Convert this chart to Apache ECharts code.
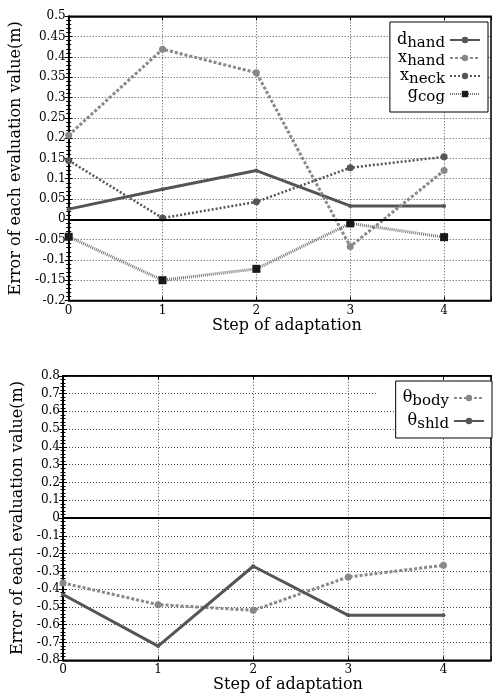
<!DOCTYPE html>
<html>
<head>
<meta charset="utf-8">
<script src="https://cdn.jsdelivr.net/npm/echarts@6/dist/echarts.min.js"></script>
<style>
html,body{margin:0;padding:0;background:#fff;}
#c{width:494px;height:696px;}
</style>
</head>
<body>
<div id="c"></div>
<script>
// ---- data ----
var steps = [0, 1, 2, 3, 4];
// top chart
var dHand = [0.025, 0.074, 0.12, 0.033, 0.033];
var xHand = [0.207, 0.419, 0.361, -0.067, 0.12];
var xNeck = [0.145, 0.003, 0.043, 0.127, 0.154];
var gCog = [-0.043, -0.15, -0.122, -0.01, -0.044];
// bottom chart
var thetaBody = [-0.365, -0.487, -0.519, -0.331, -0.266];
var thetaShld = [-0.43, -0.72, -0.271, -0.547, -0.547];
// labels
var yTitle = 'Error of each evaluation value(m)';
var xTitle = 'Step of adaptation';
var topNames = ['dhand', 'xhand', 'xneck', 'gcog'];
var botNames = ['θbody', 'θshld'];

function pairs(v) { return steps.map(function (s, i) { return [s, v[i]]; }); }

var FONT = 'DejaVu Serif';
var gridLine = { show: true, lineStyle: { color: '#222', width: 0.8, type: [1, 2] } };

function xAxisDef(gi, gap, pad) {
  return {
    type: 'value', gridIndex: gi, min: 0, max: 4.5, interval: 1,
    name: xTitle, nameLocation: 'middle', nameGap: gap,
    nameTextStyle: { fontFamily: FONT, fontSize: 16, color: '#000', padding: pad },
    axisLine: { show: true, onZero: false, lineStyle: { color: '#000', width: 1.5 } },
    axisTick: { show: true, inside: true, length: 4, lineStyle: { color: '#000' } },
    axisLabel: { fontFamily: FONT, fontSize: 12, color: '#000', margin: 4,
      formatter: function (v) { return (v % 1 === 0) ? String(v) : ''; } },
    splitLine: gridLine
  };
}
function xTopDef(gi) {
  return {
    type: 'value', gridIndex: gi, min: 0, max: 4.5, interval: 1, position: 'top',
    axisLine: { show: true, onZero: false, lineStyle: { color: '#000', width: 1.5 } },
    axisTick: { show: true, inside: true, length: 4, lineStyle: { color: '#000' } },
    axisLabel: { show: false }, splitLine: { show: false }
  };
}
function yAxisDef(gi, mn, mx, iv) {
  return {
    type: 'value', gridIndex: gi, min: mn, max: mx, interval: iv,
    name: yTitle, nameLocation: 'middle', nameGap: 36, nameRotate: 90,
    nameTextStyle: { fontFamily: FONT, fontSize: 16, color: '#000' },
    axisLine: { show: true, lineStyle: { color: '#000', width: 1.5 } },
    axisTick: { show: true, inside: true, length: 4, lineStyle: { color: '#000' } },
    minorTick: { show: true, splitNumber: 5, length: 2.5, lineStyle: { color: '#000' } },
    axisLabel: { fontFamily: FONT, fontSize: 12, color: '#000', margin: 3 },
    splitLine: gridLine
  };
}
function yRightDef(gi, mn, mx, iv) {
  return {
    type: 'value', gridIndex: gi, min: mn, max: mx, interval: iv, position: 'right',
    axisLine: { show: true, lineStyle: { color: '#000', width: 1.5 } },
    axisTick: { show: true, inside: true, length: 4, lineStyle: { color: '#000' } },
    minorTick: { show: true, splitNumber: 5, length: 2.5, lineStyle: { color: '#000' } },
    axisLabel: { show: false }, splitLine: { show: false }
  };
}

var zeroLine = {
  silent: true, symbol: 'none', label: { show: false },
  lineStyle: { color: '#000', width: 2, type: 'solid' },
  data: [{ yAxis: 0 }]
};

function richFmt(name) {
  var main = name.charAt(0), sub = name.slice(1);
  return '{a|' + main + '}{b|' + sub + '}';
}
var richStyle = {
  a: { fontFamily: FONT, fontSize: 16, color: '#000', lineHeight: 16 },
  b: { fontFamily: FONT, fontSize: 15, color: '#000', lineHeight: 16, padding: [7, 0, 0, 0] }
};

var option = {
  animation: false,
  backgroundColor: '#fff',
  grid: [
    { left: 63, top: 16.3, width: 433, height: 284.2, show: true, borderColor: '#000', borderWidth: 1.5, backgroundColor: 'transparent' },
    { left: 63, top: 375.8, width: 433, height: 284.5, show: true, borderColor: '#000', borderWidth: 1.5, backgroundColor: 'transparent' }
  ],
  xAxis: [xAxisDef(0, 17, [0, 0, 0, 14]), xAxisDef(1, 13, [0, 0, 0, 22]), xTopDef(0), xTopDef(1)],
  yAxis: [yAxisDef(0, -0.2, 0.5, 0.05), yAxisDef(1, -0.8, 0.8, 0.1), yRightDef(0, -0.2, 0.5, 0.05), yRightDef(1, -0.8, 0.8, 0.1)],
  graphic: [
    { type: 'rect', shape: { x: 378, y: 390.5, width: 22, height: 5 }, style: { fill: '#fff' }, z: 1, silent: true }
  ],
  legend: [
    {
      data: topNames, orient: 'vertical', align: 'right', right: 6, top: 22,
      itemWidth: 30, itemHeight: 8, itemGap: -4, padding: [7, 7, 7, 7],
      backgroundColor: '#fff', borderColor: '#000', borderWidth: 1,
      formatter: richFmt, textStyle: { rich: richStyle }
    },
    {
      data: botNames, orient: 'vertical', align: 'right', right: 2, top: 381,
      itemWidth: 30, itemHeight: 8, itemGap: 1, padding: [6, 7, 6, 7],
      backgroundColor: '#fff', borderColor: '#000', borderWidth: 1,
      formatter: richFmt, textStyle: { rich: richStyle }
    }
  ],
  series: [
    { name: 'dhand', type: 'line', xAxisIndex: 0, yAxisIndex: 0, data: pairs(dHand),
      symbol: 'circle', symbolSize: 4, color: '#555',
      lineStyle: { color: '#555', width: 3 }, itemStyle: { color: '#555' }, markLine: zeroLine, z: 3 },
    { name: 'xhand', type: 'line', xAxisIndex: 0, yAxisIndex: 0, data: pairs(xHand),
      symbol: 'circle', symbolSize: 7, color: '#888',
      lineStyle: { color: '#888', width: 3, type: [3, 2] }, itemStyle: { color: '#888' }, z: 3 },
    { name: 'xneck', type: 'line', xAxisIndex: 0, yAxisIndex: 0, data: pairs(xNeck),
      symbol: 'circle', symbolSize: 7, color: '#555',
      lineStyle: { color: '#555', width: 2.5, type: [2, 2] }, itemStyle: { color: '#555' }, z: 3 },
    { name: 'gcog', type: 'line', xAxisIndex: 0, yAxisIndex: 0, data: pairs(gCog),
      symbol: 'rect', symbolSize: 8, color: '#1a1a1a',
      lineStyle: { color: '#777', width: 3, type: [1, 1] }, itemStyle: { color: '#1a1a1a' }, z: 3 },
    { name: 'θbody', type: 'line', xAxisIndex: 1, yAxisIndex: 1, data: pairs(thetaBody),
      symbol: 'circle', symbolSize: 7, color: '#888',
      lineStyle: { color: '#888', width: 3, type: [3, 2] }, itemStyle: { color: '#888' }, markLine: zeroLine, z: 3 },
    { name: 'θshld', type: 'line', xAxisIndex: 1, yAxisIndex: 1, data: pairs(thetaShld),
      symbol: 'circle', symbolSize: 4, color: '#555',
      lineStyle: { color: '#555', width: 3 }, itemStyle: { color: '#555' }, z: 3 }
  ]
};

var chart = echarts.init(document.getElementById('c'), null, { renderer: 'canvas' });
chart.setOption(option);
</script>
</body>
</html>
